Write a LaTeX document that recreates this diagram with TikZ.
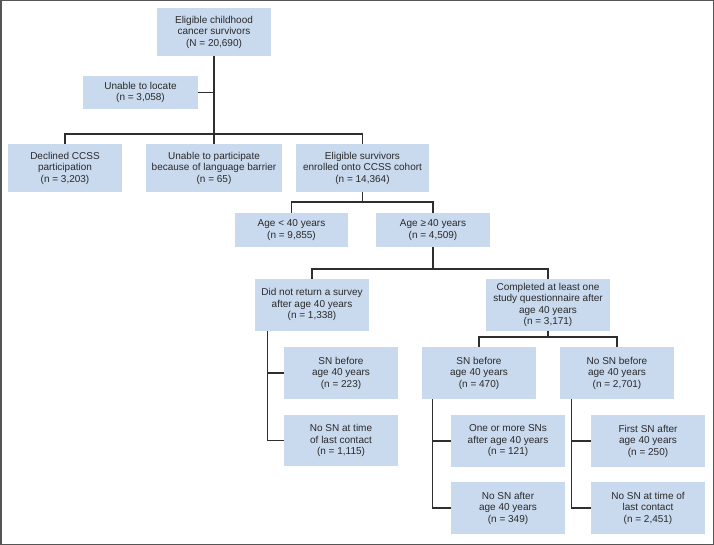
\documentclass[tikz,border=0pt]{standalone}
\usepackage{fontspec}
\setmainfont{Liberation Sans}
\usetikzlibrary{calc}
\definecolor{cBox}{HTML}{C9D9EE}
\definecolor{cLine}{HTML}{2E2E2E}
\definecolor{cFrame}{HTML}{555555}
\definecolor{cText}{HTML}{2A2A2A}

\begin{document}
\begin{tikzpicture}[
  x=1pt, y=-1pt,
  every node/.style={font=\fontsize{10}{11.5}\selectfont, text=cText},
  box/.style={fill=cBox, align=center, minimum width=114pt, minimum height=52pt, inner sep=2pt},
  ln/.style={draw=cLine, line width=1.3pt},
  frame/.style={draw=cFrame, line width=1.5pt}
]
\useasboundingbox (0,0) rectangle (714,545);
\draw[frame] (0.75,0.75) rectangle (713.25,544.25);

% Top of the tree
\node[box, minimum height=48pt] (top) at (214,32) {Eligible childhood\\cancer survivors\\(N = 20,690)};
\node[box, minimum width=115pt, minimum height=33pt] (locate) at (140.5,92.5) {Unable to locate\\(n = 3,058)};

% First split
\node[box, minimum height=48pt] (declined) at (65,168) {Declined CCSS\\participation\\(n = 3,203)};
\node[box, minimum width=136pt, minimum height=48pt] (language) at (214,168) {Unable to participate\\because of language barrier\\(n = 65)};
\node[box, minimum width=133pt, minimum height=48pt] (enrolled) at (362.5,168) {Eligible survivors\\enrolled onto CCSS cohort\\(n = 14,364)};

% Age groups
\node[box, minimum width=113pt, minimum height=34pt] (young) at (291.5,230) {Age < 40 years\\(n = 9,855)};
\node[box, minimum height=34pt] (old) at (433,230) {Age ≥\,40 years\\(n = 4,509)};

% Survey status
\node[box] (noreturn) at (312,304.7) {Did not return a survey\\after age 40 years\\(n = 1,338)};
\node[box, minimum width=124pt] (completed) at (548,304.7) {Completed at least one\\study questionnaire after\\age 40 years\\(n = 3,171)};

% Did not return branch
\node[box] (snA) at (341,373) {SN before\\age 40 years\\(n = 223)};
\node[box, minimum height=51pt] (lastA) at (341,440.5) {No SN at time\\of last contact\\(n = 1,115)};

% Completed branch
\node[box] (snB) at (479,373) {SN before\\age 40 years\\(n = 470)};
\node[box] (nosnB) at (617,373) {No SN before\\age 40 years\\(n = 2,701)};
\node[box] (moreB) at (508,441) {One or more SNs\\after age 40 years\\(n = 121)};
\node[box] (noafterB) at (508,508) {No SN after\\age 40 years\\(n = 349)};
\node[box] (firstC) at (648,441) {First SN after\\age 40 years\\(n = 250)};
\node[box] (lastC) at (648,508) {No SN at time of\\last contact\\(n = 2,451)};

% Bus points
\coordinate (busA) at (214,134);
\coordinate (busB) at (362.5,202);
\coordinate (busC) at (433,269);
\coordinate (busD) at (548,337);
\coordinate (trunkA) at ($(noreturn.south west)+(13,0)$);
\coordinate (trunkB) at ($(snB.south west)+(11,0)$);
\coordinate (trunkC) at ($(nosnB.south west)+(12,0)$);

\draw[ln] (top) -- (busA);
\draw[ln] (locate.east) -- (locate.east -| top.south);
\draw[ln] (declined.north) |- (busA) -| (enrolled.north);
\draw[ln] (busA) -- (language.north);

\draw[ln] (enrolled) -- (busB);
\draw[ln] (young.north) |- (busB) -| (old.north);

\draw[ln] (old) -- (busC);
\draw[ln] (noreturn.north) |- (busC) -| (completed.north);

\draw[ln] (completed) -- (busD);
\draw[ln] (snB.north) |- (busD) -| (nosnB.north);

\draw[ln] (trunkA) |- (lastA.west);
\draw[ln] (snA.west) -- (snA.west -| trunkA);
\draw[ln] (trunkB) |- (noafterB.west);
\draw[ln] (moreB.west) -- (moreB.west -| trunkB);
\draw[ln] (trunkC) |- (lastC.west);
\draw[ln] (firstC.west) -- (firstC.west -| trunkC);
\end{tikzpicture}
\end{document}
